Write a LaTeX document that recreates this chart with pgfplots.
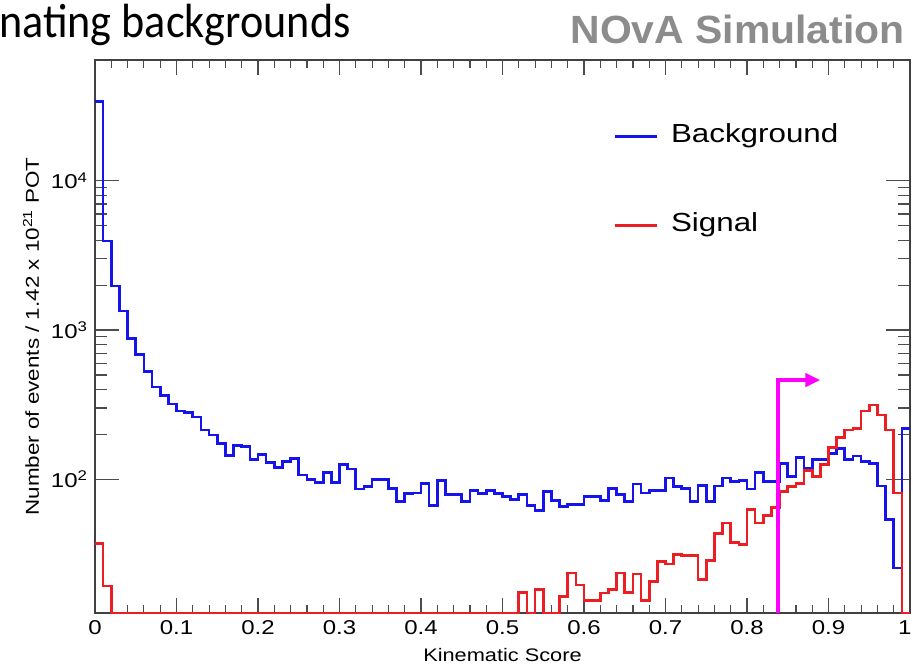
\documentclass[border=0pt]{standalone}
\usepackage{pgfplots}
\pgfplotsset{compat=1.18}
\usepackage{pgfplotstable}
\usetikzlibrary{arrows.meta}
\usepackage{fontspec}
\setmainfont{Liberation Sans}[FakeStretch=1.2]
\newfontfamily\titlefont{Carlito}[FakeStretch=0.92]
\newfontfamily\novafont{Liberation Sans}[FakeStretch=1.04]
\definecolor{rootblue}{RGB}{20,20,235}
\definecolor{rootred}{RGB}{235,30,35}
\definecolor{novagray}{RGB}{140,140,140}
\definecolor{cutmag}{RGB}{255,0,255}

\pgfplotstableread{
x bg sig
0.00 33900 37.3
0.01 3950 19.3
0.02 1970 12.7
0.03 1343 12.7
0.04 877 12.7
0.05 686 12.7
0.06 530 12.7
0.07 416 12.7
0.08 366 12.7
0.09 319 12.7
0.10 287 12.7
0.11 279 12.7
0.12 262 12.7
0.13 214 12.7
0.14 198 12.7
0.15 174 12.7
0.16 145 12.7
0.17 168 12.7
0.18 165 12.7
0.19 136 12.7
0.20 147 12.7
0.21 129 12.7
0.22 120 12.7
0.23 132 12.7
0.24 138 12.7
0.25 107 12.7
0.26 100 12.7
0.27 95 12.7
0.28 111 12.7
0.29 95 12.7
0.30 125 12.7
0.31 117 12.7
0.32 86 12.7
0.33 89 12.7
0.34 100 12.7
0.35 100 12.7
0.36 87 12.7
0.37 71 12.7
0.38 80 12.7
0.39 81 12.7
0.40 94 12.7
0.41 67 12.7
0.42 98 12.7
0.43 79 12.7
0.44 79 12.7
0.45 71 12.7
0.46 84 12.7
0.47 80 12.7
0.48 84 12.7
0.49 80 12.7
0.50 77 12.7
0.51 73 12.7
0.52 79 17.4
0.53 67 12.7
0.54 62 18.2
0.55 83 12.7
0.56 72 12.7
0.57 66 16.4
0.58 68 23.5
0.59 68 19.6
0.60 77 15.4
0.61 77 15.4
0.62 72 17.3
0.63 87 18.2
0.64 79 23.5
0.65 71 17.4
0.66 93 23.2
0.67 81 15.4
0.68 84 20.6
0.69 84 28.1
0.70 102 27.1
0.71 89 31.2
0.72 87 30.7
0.73 71 30.7
0.74 91 21.2
0.75 71 28.6
0.76 90 43.5
0.77 102 51
0.78 97 37.7
0.79 98 36.4
0.80 86 62.4
0.81 111 50.8
0.82 97 57.1
0.83 97 65
0.84 128 82.6
0.85 104 89
0.86 140 94
0.87 118 115
0.88 136 104
0.89 135 125
0.90 149 164
0.91 160 191
0.92 135 214
0.93 143 219
0.94 131 286
0.95 127 314
0.96 90 269
0.97 53.5 214
0.98 25.4 81
0.99 219 12.7
1.00 219 12.7
}\histdata

\begin{document}
\begin{tikzpicture}
\useasboundingbox (-71.25pt,-38.25pt) rectangle (613.5pt,459.75pt);
\node[anchor=base west, font=\titlefont\fontsize{36pt}{40pt}\selectfont, inner sep=0pt] at (-72pt,431.5pt) {nating backgrounds};
\node[anchor=base east, font=\novafont\bfseries\fontsize{29.5pt}{34pt}\selectfont, text=novagray, inner sep=0pt] at (607.5pt,426.75pt) {NOvA Simulation};
\begin{axis}[
  at={(0pt,0pt)}, anchor=south west,
  scale only axis,
  width=611.25pt, height=414.75pt,
  xmin=0, xmax=1,
  ymode=log, ymin=12.7, ymax=64500,
  clip=false,
  axis line style={black!75, line width=0.8pt},
  tick align=inside,
  tick style={black!70, line width=0.9pt},
  xtick={0,0.1,0.2,0.3,0.4,0.5,0.6,0.7,0.8,0.9,1},
  xticklabels={0,0.1,0.2,0.3,0.4,0.5,0.6,0.7,0.8,0.9,{\makebox[0pt][c]{\hspace{-8pt}1}}},
  minor x tick num=4,
  xtick style={/pgfplots/major tick length=11.25pt, /pgfplots/minor tick length=6pt},
  ytick={100,1000,10000},
  yticklabels={10\textsuperscript{2},10\textsuperscript{3},10\textsuperscript{4}},
  ytick style={/pgfplots/major tick length=18pt, /pgfplots/minor tick length=9pt},
  /pgf/number format/assume math mode=true,
  ticklabel style={font=\fontsize{15pt}{17pt}\selectfont},
  xticklabel style={yshift=-2pt},
  yticklabel style={xshift=-2pt},
  xlabel={Kinematic Score},
  ylabel={Number of events / 1.42 x 10\textsuperscript{21} POT},
  every axis x label/.style={at={(axis description cs:0.5,-0.087)}, anchor=base, font=\fontsize{13.6pt}{16pt}\selectfont},
  every axis y label/.style={at={(axis description cs:-0.0785,0.5)}, anchor=center, rotate=90, font=\fontsize{14pt}{16pt}\selectfont},
  legend style={draw=none, fill=none, at={(axis description cs:0.6356,0.782)}, anchor=west,
    font=\fontsize{19.6pt}{22pt}\selectfont, inner sep=0pt,
    nodes={inner sep=0pt, text height=14pt, text depth=4pt},
    column sep=9pt, row sep=48.75pt},
  legend cell align=left,
  legend image code/.code={\draw[#1, line width=2.3pt] (0pt,0pt) -- (32pt,0pt);},
]
\addplot[const plot, rootblue, line width=2pt] table[x=x, y=bg] {\histdata};
\addlegendentry{Background}
\addplot[const plot, rootred, line width=2pt] table[x=x, y=sig] {\histdata};
\addlegendentry{Signal}
\addplot[cutmag, line width=2.4pt, -{Triangle[length=11pt, width=10pt]}, forget plot] coordinates {(0.838,12.7) (0.838,462) (0.8896,462)};
\end{axis}
\end{tikzpicture}
\end{document}
